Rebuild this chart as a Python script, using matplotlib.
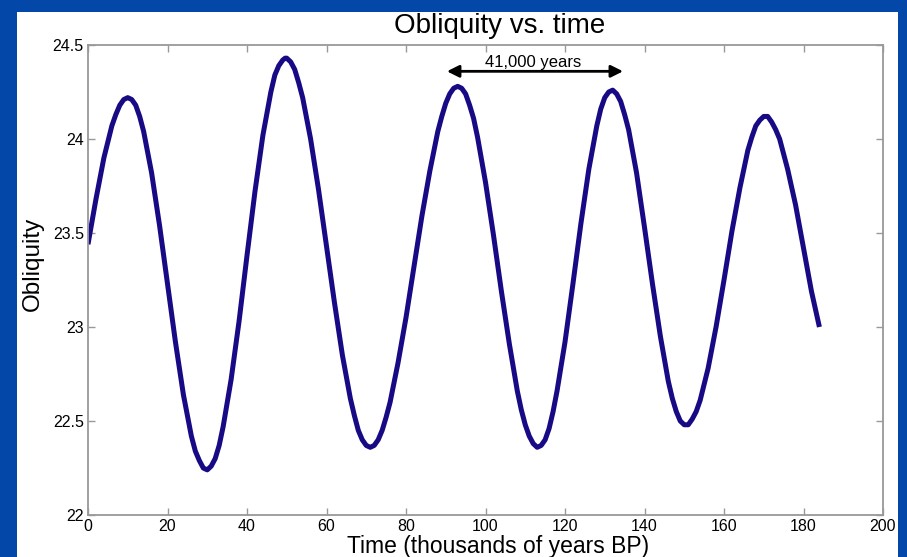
import numpy as np
import matplotlib.pyplot as plt
from matplotlib.patches import Rectangle

# obliquity (degrees), every 2 kyr from 0 to 184 kyr BP
time_kyr = list(range(0, 186, 2))
obliquity = [
    23.44, 23.68, 23.90, 24.07, 24.18, 24.22, 24.18, 24.04, 23.82, 23.54,
    23.23, 22.92, 22.64, 22.42, 22.29, 22.24, 22.30, 22.47, 22.72, 23.03,
    23.38, 23.72, 24.02, 24.25, 24.39, 24.43, 24.37, 24.22, 24.00, 23.73,
    23.43, 23.13, 22.85, 22.62, 22.45, 22.37, 22.37, 22.45, 22.60, 22.81,
    23.05, 23.32, 23.59, 23.83, 24.04, 24.19, 24.27, 24.27, 24.18, 24.01,
    23.77, 23.49, 23.19, 22.91, 22.66, 22.48, 22.38, 22.37, 22.46, 22.66,
    22.92, 23.23, 23.55, 23.84, 24.07, 24.22, 24.26, 24.20, 24.05, 23.82,
    23.53, 23.23, 22.95, 22.71, 22.55, 22.48, 22.51, 22.61, 22.78, 23.00,
    23.25, 23.51, 23.74, 23.94, 24.07, 24.12, 24.09, 24.00, 23.84, 23.65,
    23.42, 23.19, 23.00,
]
# extra readings around the peaks and troughs
time_extra = [7, 9, 11, 13, 27, 29, 31, 33, 47, 49, 49.6, 51, 53, 67, 69, 71, 73, 75,
              89, 91, 93, 95, 97, 109, 111, 113, 115, 117, 129, 131, 133, 135,
              147, 149, 151, 153, 167, 169, 171, 173]
obliquity_extra = [24.13, 24.21, 24.21, 24.12, 22.34, 22.25, 22.26, 22.37,
                   24.34, 24.42, 24.43, 24.41, 24.30, 22.53, 22.40, 22.36, 22.40, 22.52,
                   24.12, 24.24, 24.28, 24.24, 24.11, 22.56, 22.42, 22.36, 22.40, 22.55,
                   24.16, 24.25, 24.24, 24.13, 22.62, 22.50, 22.48, 22.55,
                   24.01, 24.10, 24.12, 24.05]

xticks = [0, 20, 40, 60, 80, 100, 120, 140, 160, 180, 200]
yticks = [22, 22.5, 23, 23.5, 24, 24.5]
ytick_labels = ['22', '22.5', '23', '23.5', '24', '24.5']

t = np.array(time_kyr + time_extra, dtype=float)
y = np.array(obliquity + obliquity_extra)
order = np.argsort(t)
t, y = t[order], y[order]

plt.rcParams['font.family'] = ['Liberation Sans', 'DejaVu Sans']

fig = plt.figure(figsize=(9.07, 5.57), dpi=100)
fig.patch.set_facecolor('#0347a8')
# white slide panel, behind the axes
fig.patches.append(Rectangle((17/907, 0), 881/907, 545/557, transform=fig.transFigure,
                             facecolor='white', edgecolor='none', zorder=-5))

ax = fig.add_axes([88/907, 1 - 515/557, 795/907, 470/557])
ax.set_zorder(2)
ax.plot(t, y, color='#180a84', linewidth=3.6, solid_capstyle='butt', solid_joinstyle='round')

ax.set_xlim(0, 200)
ax.set_ylim(22, 24.5)
ax.set_xticks(xticks)
ax.set_yticks(yticks)
ax.set_yticklabels(ytick_labels)
ax.tick_params(direction='in', length=5, width=1, color='#999999', labelsize=11.5,
               top=True, right=True, labelcolor='black', pad=3)
for s in ax.spines.values():
    s.set_color('#999999')
    s.set_linewidth(1.3)

# 41,000 year marker
ax.annotate('', xy=(90.3, 24.36), xytext=(134.6, 24.36),
            arrowprops=dict(arrowstyle='<|-|>', color='black', lw=2, mutation_scale=18,
                            shrinkA=0, shrinkB=0))
ax.text(112.0, 24.383, '41,000 years', ha='center', va='baseline', fontsize=12)

fig.text(500/907, 1 - 26/557, 'Obliquity vs. time', ha='center', va='center', fontsize=20)
fig.text(498/907, 1 - 547/557, 'Time (thousands of years BP)', ha='center', va='center', fontsize=16.5)
fig.text(33/907, 1 - 264/557, 'Obliquity', ha='center', va='center', rotation=90, fontsize=17.5)

fig.savefig('out.png', dpi=100, facecolor=fig.get_facecolor())
